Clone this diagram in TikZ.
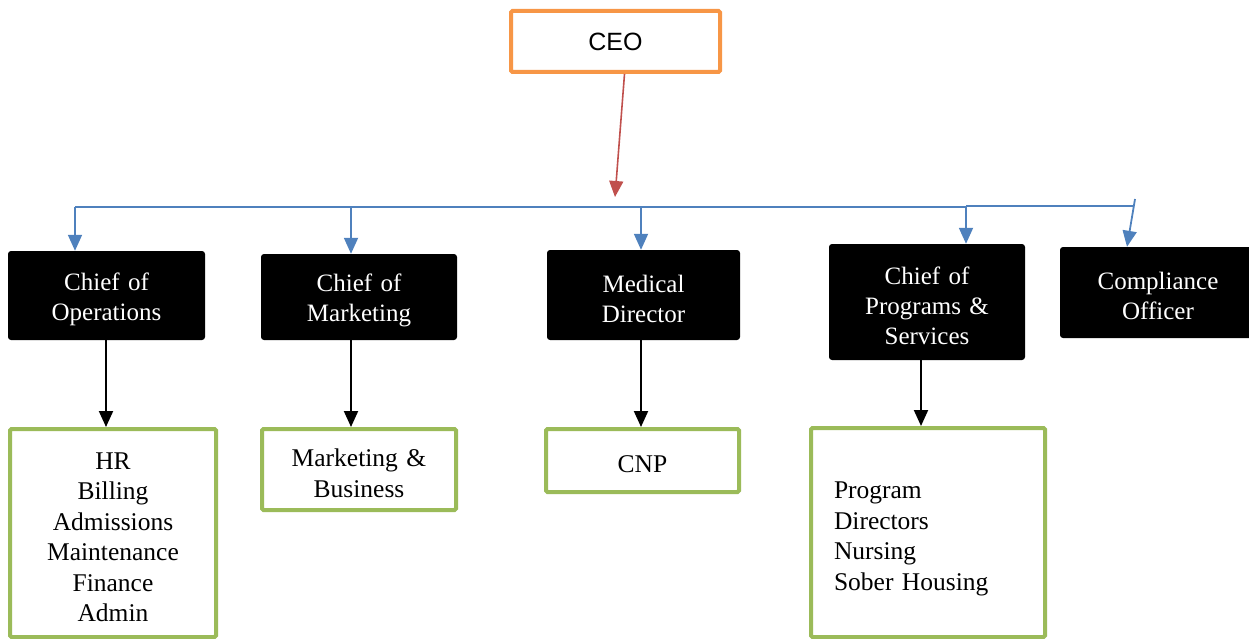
\documentclass[tikz,border=0pt]{standalone}
\usepackage{fontspec}
\setmainfont{Liberation Serif}
\newfontfamily\ceofont{Liberation Sans}
\usetikzlibrary{arrows.meta}
\definecolor{ceoorange}{HTML}{F79646}
\definecolor{deptgreen}{HTML}{9BBB59}
\definecolor{busblue}{HTML}{4F81BD}
\definecolor{ceored}{HTML}{C0504D}
\begin{document}
\begin{tikzpicture}[x=1pt,y=-1pt,
  tip/.style={-{Triangle[width=14pt,length=16pt]}},
  topstrut/.style={execute at begin node={\rule{0pt}{#1}}},
  ceobox/.style={draw=ceoorange,line width=4pt,fill=white,rounded corners=1.5pt,
    minimum width=209pt,minimum height=61pt,inner sep=0pt,
    font=\ceofont\fontsize{25}{30}\selectfont},
  chiefbox/.style={fill=black,text=white,rounded corners=3pt,inner sep=0pt,
    align=center,topstrut=25pt,font=\fontsize{25}{30}\selectfont},
  deptbox/.style={draw=deptgreen,line width=4pt,fill=white,rounded corners=1.5pt,
    inner sep=0pt,align=center,topstrut=25pt,font=\fontsize{25.5}{30.5}\selectfont},
  bus/.style={draw=busblue,line width=2pt},
  busarrow/.style={bus,tip,line width=1.8pt},
  downarrow/.style={draw=black,line width=2pt,tip},
  ceoarrow/.style={draw=ceored,line width=1.6pt,tip}]
\useasboundingbox (0,0) rectangle (1249,639);

% top of the chart
\node[ceobox] (ceo) at (615.5,41.5) {CEO};

% chiefs
\node[chiefbox,text width=197pt,minimum height=89pt] (ops) at (106.5,295.5) {Chief of\\Operations};
\node[chiefbox,text width=196pt,minimum height=86pt] (mkt) at (359,297) {Chief of\\Marketing};
\node[chiefbox,text width=193pt,minimum height=90pt] (med) at (643.5,295) {Medical\\Director};
\node[chiefbox,text width=196pt,minimum height=116pt] (prog) at (927,302) {Chief of\\Programs \&\\Services};
\node[chiefbox,text width=196pt,minimum height=91pt] (comp) at (1158,292.5) {Compliance\\Officer};

% departments
\node[deptbox,text width=206pt,minimum height=208pt] (opsdept) at (113,533) {HR\\Billing\\Admissions\\Maintenance\\Finance\\Admin};
\node[deptbox,text width=194pt,minimum height=81pt] (mktdept) at (359,469.5) {Marketing \&\\Business};
\node[deptbox,text width=193pt,minimum height=63pt,topstrut=23pt] (meddept) at (642.5,460.5) {CNP};
\node[deptbox,align=left,text width=188pt,inner xsep=23pt,minimum height=209pt,topstrut=29pt] (progdept) at (928,532.5) {Program\\Directors\\Nursing\\Sober Housing};

% bus coordinates
\coordinate (ceoend) at (615,197);
\coordinate (b1) at (75,207);
\coordinate (b2) at (351,207);
\coordinate (b3) at (641,207);
\coordinate (b4) at (966,207);
\coordinate (b5) at (1134,205.5);
\coordinate (b5top) at (1135,199);
\coordinate (b4r) at (966,205.5);

% CEO to the bus
\draw[ceoarrow] ([xshift=9pt]ceo.south) -- (ceoend);

% the bus and its drops
\draw[bus] (b1) -- (b4);
\draw[bus] (b4r) -- (b5);
\draw[busarrow] (b1) -- (b1 |- ops.north);
\draw[busarrow] (b2) -- (b2 |- mkt.north);
\draw[busarrow] (b3) -- (b3 |- med.north);
\draw[busarrow] (b4) -- (b4 |- prog.north);
\draw[busarrow] (b5top) -- ([xshift=-31pt]comp.north);

% chiefs to departments
\draw[downarrow] ([xshift=-0.5pt]ops.south) -- ([xshift=-0.5pt]ops.south |- opsdept.north);
\draw[downarrow] ([xshift=-8pt]mkt.south) -- ([xshift=-8pt]mkt.south |- mktdept.north);
\draw[downarrow] ([xshift=-2.5pt,yshift=6pt]med.south) -- ([xshift=-2.5pt]med.south |- meddept.north);
\draw[downarrow] ([xshift=-6pt]prog.south) -- ([xshift=-6pt]prog.south |- progdept.north);
\end{tikzpicture}
\end{document}
